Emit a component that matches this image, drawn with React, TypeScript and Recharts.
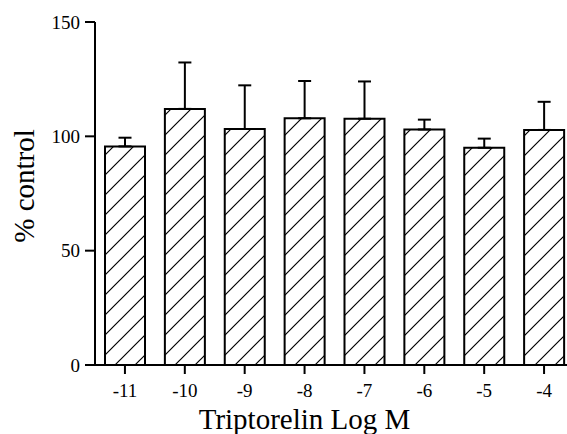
import React from 'react';
import { BarChart, Bar, XAxis, YAxis, ErrorBar, Label } from 'recharts';

// log concentration of triptorelin
const doses = ['-11', '-10', '-9', '-8', '-7', '-6', '-5', '-4'];
// mean response, % of control
const means = [95.6, 112, 103.2, 107.9, 107.7, 103, 95, 102.8];
// upper error (SEM)
const sem = [3.8, 20.3, 19.1, 16.3, 16.3, 4.3, 4.0, 12.3];
const yTicks = [0, 50, 100, 150];

const data = doses.map((d, i) => ({
  dose: d,
  value: means[i],
  err: [0, sem[i]],
}));

const serif = "'Liberation Serif', serif";

const XTick = (props: any) => {
  const { x, y, payload } = props;
  return (
    <text x={x} y={y} dy={12} textAnchor="middle" fill="#000" fontSize={19} fontFamily={serif}>
      {payload.value}
    </text>
  );
};

const YTick = (props: any) => {
  const { x, y, payload } = props;
  return (
    <text x={x} y={y} dy={6.5} textAnchor="end" fill="#000" fontSize={19} fontFamily={serif}>
      {payload.value}
    </text>
  );
};

export default function App() {
  return (
    <div
      style={{
        position: 'absolute',
        left: 0,
        top: 0,
        width: 567,
        height: 434,
        overflow: 'hidden',
        background: '#fff',
        fontFamily: serif,
      }}
    >
      <BarChart
        width={574}
        height={434}
        data={data}
        margin={{ top: 22, right: 0, bottom: 0, left: 0 }}
      >
        <defs>
          <pattern id="hatch" patternUnits="userSpaceOnUse" width={20} height={20}>
            <rect width={20} height={20} fill="#fff" />
            <path
              d="M0,20 L20,0 M-5,5 L5,-5 M15,25 L25,15"
              stroke="#000"
              strokeWidth={1.2}
            />
          </pattern>
        </defs>
        <XAxis
          dataKey="dose"
          height={69}
          axisLine={{ stroke: '#000', strokeWidth: 2 }}
          tickLine={{ stroke: '#000', strokeWidth: 2 }}
          tickSize={9}
          tickMargin={11}
          tick={(p: any) => <XTick {...p} />}
        >
          <Label
            value="Triptorelin Log M"
            position="insideBottom"
            offset={5}
            dx={-30}
            fill="#000"
            fontSize={29}
            fontFamily={serif}
          />
        </XAxis>
        <YAxis
          width={95}
          domain={[0, 150]}
          ticks={yTicks}
          interval={0}
          axisLine={{ stroke: '#000', strokeWidth: 2 }}
          tickLine={{ stroke: '#000', strokeWidth: 2 }}
          tickSize={10}
          tickMargin={5}
          tick={(p: any) => <YTick {...p} />}
        >
          <Label
            content={() => (
              <text
                x={24}
                y={186}
                transform="rotate(-90 24 186)"
                textAnchor="middle"
                dominantBaseline="central"
                fill="#000"
                fontSize={29}
                fontFamily={serif}
              >
                % control
              </text>
            )}
          />
        </YAxis>
        <Bar
          dataKey="value"
          barSize={40}
          fill="url(#hatch)"
          stroke="#000"
          strokeWidth={2}
          isAnimationActive={false}
        >
          <ErrorBar
            dataKey="err"
            direction="y"
            width={6.5}
            stroke="#000"
            strokeWidth={2}
            isAnimationActive={false}
          />
        </Bar>
      </BarChart>
    </div>
  );
}
